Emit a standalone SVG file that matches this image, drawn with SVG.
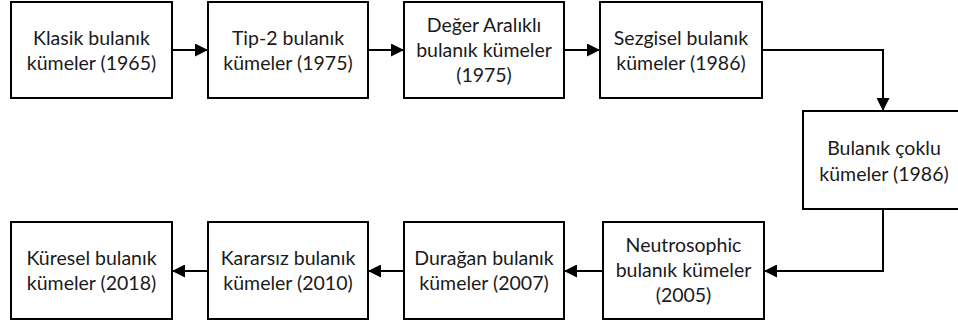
<svg xmlns="http://www.w3.org/2000/svg" width="958" height="326" viewBox="0 0 958 326">
<style>
.box{fill:#fff;stroke:#000;stroke-width:2}
.lbl{font-family:Lato,"Liberation Sans",sans-serif;font-size:19.5px;fill:#1a1a1a;text-anchor:middle}
.con{fill:none;stroke:#000;stroke-width:2}
</style>
<defs>
<marker id="ah" markerUnits="userSpaceOnUse" markerWidth="13" markerHeight="13" refX="12" refY="6.5" orient="auto">
<path d="M0,0 L13,6.5 L0,13 Z" fill="#000"/>
</marker>
</defs>
<rect width="958" height="326" fill="#fff"/>
<g id="connectors">
<line class="con" x1="172" y1="50" x2="207" y2="50" marker-end="url(#ah)"/>
<line class="con" x1="368" y1="50" x2="403" y2="50" marker-end="url(#ah)"/>
<line class="con" x1="564" y1="50" x2="599" y2="50" marker-end="url(#ah)"/>
<polyline class="con" points="762,50 883,50 883,110" marker-end="url(#ah)"/>
<polyline class="con" points="883,209 883,271 765,271" marker-end="url(#ah)"/>
<line class="con" x1="603" y1="271" x2="565" y2="271" marker-end="url(#ah)"/>
<line class="con" x1="404" y1="271" x2="369" y2="271" marker-end="url(#ah)"/>
<line class="con" x1="208" y1="271" x2="173" y2="271" marker-end="url(#ah)"/>
</g>
<g id="n1"><rect class="box" x="11" y="2" width="161" height="96"/>
<text class="lbl" x="91.5" y="44.5">Klasik bulanık</text><text class="lbl" x="91.5" y="70">kümeler (1965)</text></g>
<g id="n2"><rect class="box" x="208" y="2" width="160" height="96"/>
<text class="lbl" x="288" y="44.5">Tip-2 bulanık</text><text class="lbl" x="288" y="70">kümeler (1975)</text></g>
<g id="n3"><rect class="box" x="404" y="2" width="160" height="96"/>
<text class="lbl" x="484" y="32">Değer Aralıklı</text><text class="lbl" x="484" y="57">bulanık kümeler</text><text class="lbl" x="484" y="82">(1975)</text></g>
<g id="n4"><rect class="box" x="600" y="2" width="162" height="96"/>
<text class="lbl" x="681" y="44.5">Sezgisel bulanık</text><text class="lbl" x="681" y="70">kümeler (1986)</text></g>
<g id="n5"><rect class="box" x="803" y="111" width="162" height="98"/>
<text class="lbl" x="884" y="155">Bulanık çoklu</text><text class="lbl" x="884" y="180.5">kümeler (1986)</text></g>
<g id="n6"><rect class="box" x="603" y="222" width="161" height="97"/>
<text class="lbl" x="683.5" y="252">Neutrosophic</text><text class="lbl" x="683.5" y="277">bulanık kümeler</text><text class="lbl" x="683.5" y="302">(2005)</text></g>
<g id="n7"><rect class="box" x="404" y="222" width="160" height="97"/>
<text class="lbl" x="484" y="264.5">Durağan bulanık</text><text class="lbl" x="484" y="290">kümeler (2007)</text></g>
<g id="n8"><rect class="box" x="208" y="222" width="160" height="97"/>
<text class="lbl" x="288" y="264.5">Kararsız bulanık</text><text class="lbl" x="288" y="290">kümeler (2010)</text></g>
<g id="n9"><rect class="box" x="11" y="222" width="161" height="97"/>
<text class="lbl" x="91.5" y="264.5">Küresel bulanık</text><text class="lbl" x="91.5" y="290">kümeler (2018)</text></g>
</svg>
